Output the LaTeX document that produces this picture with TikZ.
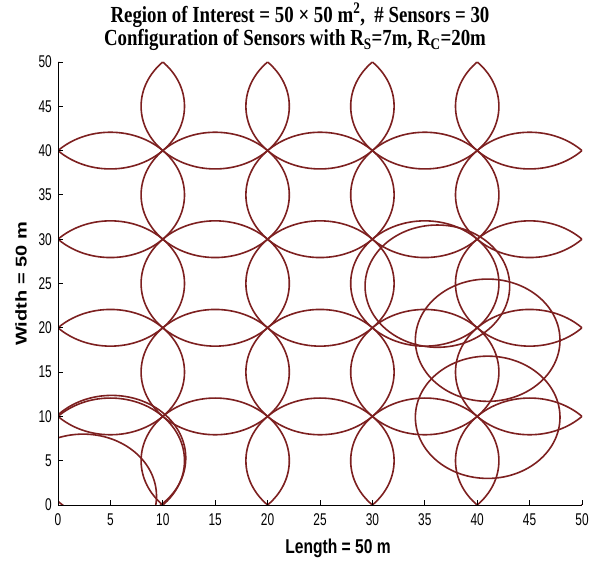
\documentclass[tikz,border=0pt]{standalone}
\usepackage{fontspec}
\usepackage{graphicx}
\setmainfont{Liberation Serif}
\newfontfamily\sansf{Liberation Sans}
\definecolor{sens}{RGB}{125,32,32}
\newcommand{\tklab}[1]{\scalebox{0.7}[1]{\fontsize{17}{17}\selectfont\sansf #1}}
\newcommand{\ttl}[1]{\scalebox{0.82}[1]{\fontsize{23}{23}\selectfont\bfseries #1}}
\newcommand{\axl}[1]{\scalebox{0.78}[1]{\fontsize{20}{20}\selectfont\sansf\bfseries #1}}
\begin{document}
\begin{tikzpicture}[x=1pt,y=1pt,
  axisline/.style={draw=black,line width=0.8pt},
  tickmark/.style={draw=black,line width=0.8pt},
  ticklab/.style={inner sep=0pt},
  sensor/.style={draw=sens,line width=1.6pt},
  textnode/.style={inner sep=0pt}]
\useasboundingbox[fill=white] (0,0) rectangle (592,560);
% titles
\node[textnode] (t1) at (300,545) {\ttl{Region of Interest = 50 × 50 m\textsuperscript{2},\ \ \# Sensors = 30}};
\node[textnode] (t2) at (295,520) {\ttl{Configuration of Sensors with R\textsubscript{S}=7m, R\textsubscript{C}=20m}};
% axis labels
\node[textnode] (xl) at (338,12) {\axl{Length = 50 m}};
\node[textnode] (yl) at (21,276) {\scalebox{0.78}[1]{\rotatebox{90}{\fontsize{20}{20}\selectfont\sansf\bfseries Width = 50 m}}};
% data area
\begin{scope}[shift={(58pt,55pt)}, x=10.48pt, y=8.86pt]
  \begin{scope}
    \clip (0,0) -- (50,0) -- (50,49.7) -- (49.7,50) -- (0,50) -- cycle;
    \foreach \i in {5,15,25,35,45}
      \foreach \j in {5,15,25,35,45}
        \draw[sensor] (\i,\j) circle[radius=7.071];
    \draw[sensor] (5.12,5.3) circle[radius=7.071];
    \draw[sensor] (2.4,1.0) circle[radius=7];
    \draw[sensor] (36.2,24.7) circle[radius=6.9];
    \draw[sensor] (41,18.6) circle[radius=6.9];
    \draw[sensor] (41,9.9) circle[radius=6.9];
  \end{scope}
  \coordinate (o) at (0,0);
  \coordinate (xe) at (50,0);
  \coordinate (ye) at (0,50);
  \draw[axisline] (ye) -- (o) -- (xe);
  \foreach \v in {0,5,...,50} {
    \draw[tickmark] (\v,0) -- ++(0,5pt);
    \draw[tickmark] (0,\v) -- ++(5pt,0);
    \node[ticklab] (xt\v) at ([yshift=-15pt]\v,0) {\tklab{\v}};
    \node[ticklab,anchor=east] (yt\v) at ([xshift=-6pt]0,\v) {\tklab{\v}};
  }
\end{scope}
\end{tikzpicture}
\end{document}
